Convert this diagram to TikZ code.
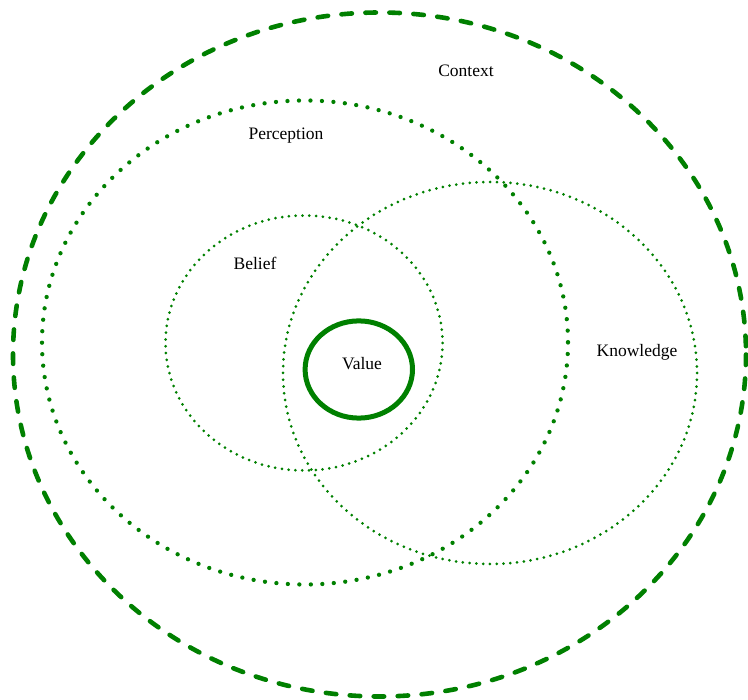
\documentclass[tikz,border=0pt]{standalone}
\usepackage{fontspec}
\setmainfont{Liberation Serif}
\definecolor{ringgreen}{RGB}{0,128,0}

\tikzset{
    ctxring/.style={ringgreen, line width=4.6pt, line cap=round, dash pattern=on 10.5pt off 13.5pt},
    bigdots/.style={ringgreen, line width=4.3pt, line cap=round, dash pattern=on 0pt off 11.5pt},
    smalldots/.style={ringgreen, line width=3pt, line cap=round, dash pattern=on 0pt off 6.8pt},
    valring/.style={ringgreen, line width=5pt},
    lbl/.style={font=\fontsize{17.5}{20}\selectfont, inner sep=0pt}
}

\begin{document}
\begin{tikzpicture}[x=1pt, y=-1pt]
    \useasboundingbox (0, 0) rectangle (748, 700);

    \draw[ctxring] (379.5, 354.5) ellipse [x radius=366.5, y radius=342];
    \draw[bigdots] (305, 342.5) ellipse [x radius=263, y radius=242];
    \draw[smalldots] (304, 343) ellipse [x radius=138.5, y radius=127.5];
    \draw[smalldots] (490, 373) ellipse [x radius=207, y radius=191];
    \draw[valring] (358.8, 369.5) ellipse [x radius=53.7, y radius=48.6];

    \node[lbl] (context) at (466, 70.5) {Context};
    \node[lbl] (perception) at (286, 135.5) {Perception};
    \node[lbl] (belief) at (255, 263) {Belief};
    \node[lbl] (knowledge) at (637, 352) {Knowledge};
    \node[lbl] (value) at (362, 364) {Value};
\end{tikzpicture}
\end{document}
